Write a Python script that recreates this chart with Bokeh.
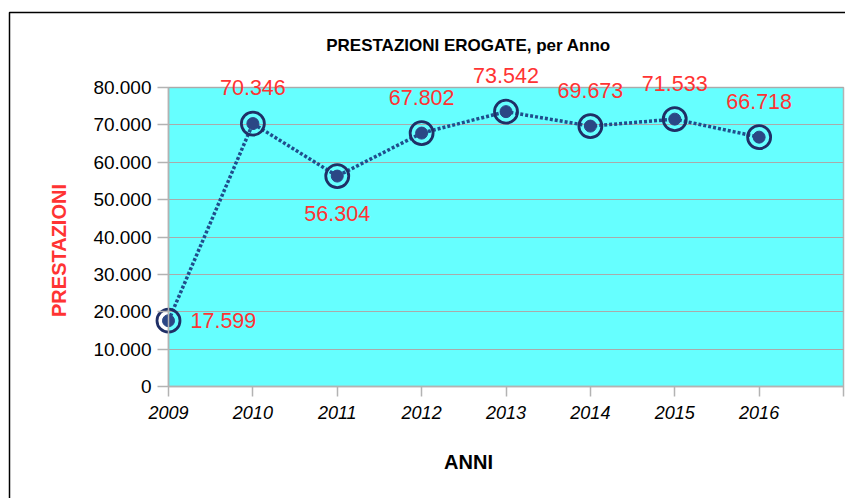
import math
from bokeh.plotting import figure
from bokeh.models import Range1d, FixedTicker, ColumnDataSource, Label, BoxAnnotation, LinearAxis, Grid
from bokeh.core.properties import value
from bokeh.embed import file_html
from bokeh.resources import INLINE

# ---- data ----
years = [2009, 2010, 2011, 2012, 2013, 2014, 2015, 2016]
prestazioni = [17599, 70346, 56304, 67802, 73542, 69673, 71533, 66718]
label_texts = ["17.599", "70.346", "56.304", "67.802", "73.542", "69.673", "71.533", "66.718"]
label_side = ["right", "above", "below", "above", "above", "above", "above", "above"]
y_ticks = [0, 10000, 20000, 30000, 40000, 50000, 60000, 70000, 80000]
y_tick_labels = ["0", "10.000", "20.000", "30.000", "40.000", "50.000", "60.000", "70.000", "80.000"]
x_ticks = [2009, 2010, 2011, 2012, 2013, 2014, 2015, 2016, 2017]
x_tick_labels = ["2009", "2010", "2011", "2012", "2013", "2014", "2015", "2016", ""]
chart_title = "PRESTAZIONI EROGATE, per Anno"
x_title = "ANNI"
y_title = "PRESTAZIONI"

FONT = "Liberation Sans"
RED = "#ff3333"
GRID = "#b3b3b3"
W, H = 845, 498

# plot area placement in pixels (plot area spans x_ticks[0]..x_ticks[-1], y_ticks[0]..y_ticks[-1])
PL, PR, PT, PB = 168, 843, 87, 386
xs = (x_ticks[-1] - x_ticks[0]) / (PR - PL)
ys = (y_ticks[-1] - y_ticks[0]) / (PB - PT)
x0 = x_ticks[0] - PL * xs
x1 = x_ticks[-1] + (W - PR) * xs
y1 = y_ticks[-1] + PT * ys
y0 = y_ticks[0] - (H - PB) * ys

def dx(px):
    return x0 + px * xs

def dy(py):
    return y1 - py * ys

p = figure(width=W, height=H, output_backend="svg", toolbar_location=None,
           x_range=Range1d(x0, x1), y_range=Range1d(y0, y1),
           x_axis_location=None, y_axis_location=None, min_border=0)
p.center = []  # drop default grids
p.background_fill_color = "white"
p.border_fill_color = "white"
p.outline_line_color = None

# outer chart border
p.add_layout(BoxAnnotation(left=dx(9), right=dx(W + 50), top=dy(12), bottom=dy(H + 50),
                           fill_color=None, fill_alpha=0, line_color="black", line_alpha=1.0,
                           line_width=1.5, level="image"))
# plot area
p.add_layout(BoxAnnotation(left=x_ticks[0], right=x_ticks[-1], bottom=y_ticks[0], top=y_ticks[-1],
                           fill_color="#66ffff", fill_alpha=1.0, line_color=GRID, line_alpha=1.0,
                           line_width=1.5, level="image"))

xaxis = LinearAxis(ticker=FixedTicker(ticks=x_ticks), fixed_location=y_ticks[0],
                   bounds=(x_ticks[0], x_ticks[-1]))
yaxis = LinearAxis(ticker=FixedTicker(ticks=y_ticks), fixed_location=x_ticks[0],
                   bounds=(y_ticks[0], y_ticks[-1]))
xaxis.major_label_overrides = {t: l for t, l in zip(x_ticks, x_tick_labels)}
yaxis.major_label_overrides = {t: l for t, l in zip(y_ticks, y_tick_labels)}
for ax in (xaxis, yaxis):
    ax.axis_line_color = GRID
    ax.axis_line_width = 1.5
    ax.major_tick_line_color = GRID
    ax.major_tick_line_width = 1.5
    ax.minor_tick_line_color = None
    ax.major_tick_in = 0
    ax.major_label_text_font = FONT
    ax.major_label_text_color = "black"
yaxis.major_tick_out = 11
yaxis.major_label_standoff = 6
yaxis.major_label_text_font_size = "19px"
xaxis.major_tick_out = 10
xaxis.major_label_standoff = 9
xaxis.major_label_text_font_size = "18px"
xaxis.major_label_text_font_style = "italic"

grid = Grid(dimension=1, ticker=FixedTicker(ticks=y_ticks[1:]), grid_line_color="#aaaaaa",
            grid_line_alpha=1.0, grid_line_width=1, cross_bounds=(x_ticks[0], x_ticks[-1]),
            level="underlay")
p.add_layout(grid)
p.add_layout(xaxis, "below")
p.add_layout(yaxis, "left")

offsets = {"right": ("center_left", 22, 0), "above": ("center", 0, -36), "below": ("center", 0, 37)}
src = ColumnDataSource(dict(x=years, y=prestazioni, t=label_texts,
                            a=[offsets[s][0] for s in label_side],
                            xo=[offsets[s][1] for s in label_side],
                            yo=[offsets[s][2] for s in label_side]))

p.line("x", "y", source=src, line_color="#1f4e8c", line_width=3.5, line_dash="3 2")
p.scatter("x", "y", source=src, size=23, fill_color=None, line_color="#1f2f66", line_width=2.8)
p.scatter("x", "y", source=src, size=12, fill_color="#2b4785", line_color="#2b4785")
p.text("x", "y", text="t", source=src, anchor="a", x_offset="xo", y_offset="yo",
       text_font=value(FONT), text_font_size="21.5px", text_color=RED)

# titles
p.add_layout(Label(x=dx(468), y=dy(45), text=chart_title, text_font=FONT,
                   text_font_size="17px", text_font_style="bold", text_color="black",
                   text_align="center", text_baseline="middle"))
p.add_layout(Label(x=dx(468), y=dy(461), text=x_title, text_font=FONT,
                   text_font_size="20px", text_font_style="bold", text_color="black",
                   text_align="center", text_baseline="middle"))
p.add_layout(Label(x=dx(58), y=dy(250), text=y_title, text_font=FONT, angle=math.pi / 2,
                   text_font_size="20px", text_font_style="bold", text_color=RED,
                   text_align="center", text_baseline="middle"))

open("out.html", "w").write(file_html(p, INLINE))
